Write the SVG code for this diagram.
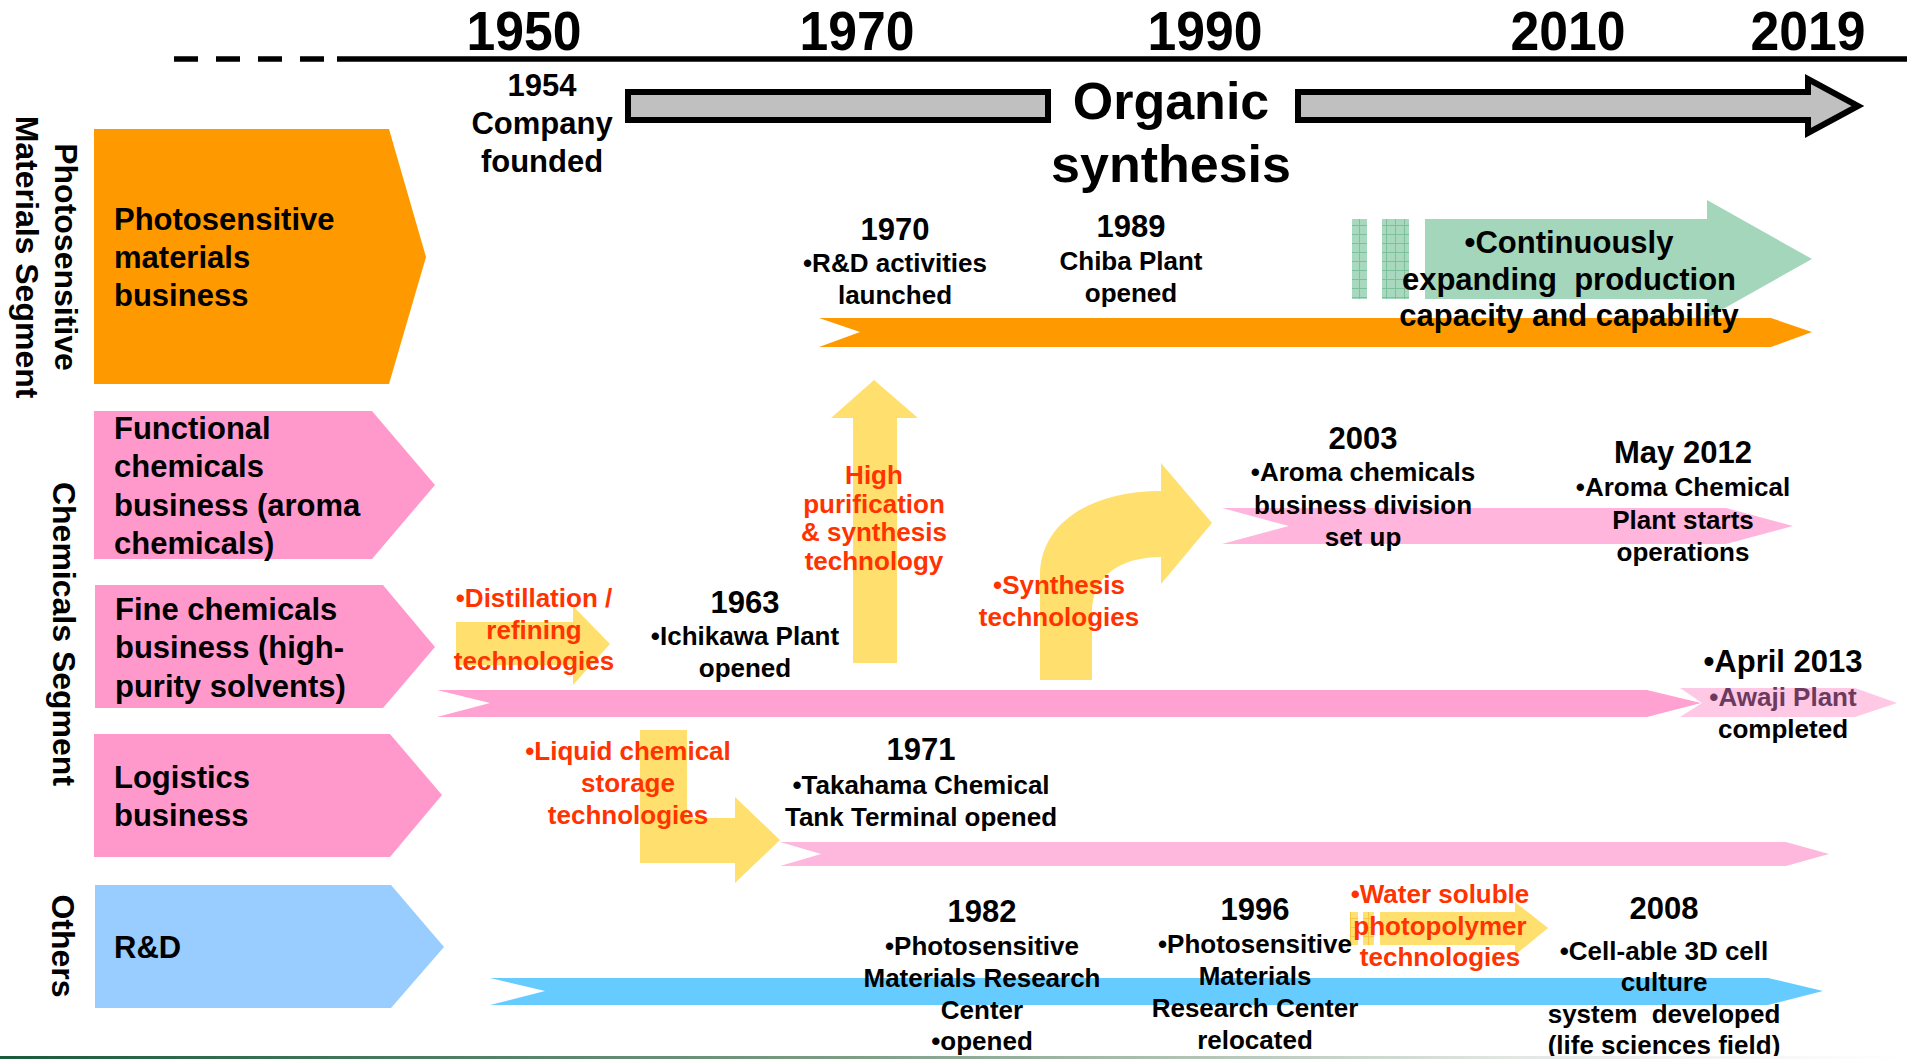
<svg xmlns="http://www.w3.org/2000/svg" width="1907" height="1059" viewBox="0 0 1907 1059">
<defs>
<linearGradient id="footer" x1="0" x2="1" y1="0" y2="0">
<stop offset="0" stop-color="#1A5A3A"/>
<stop offset="0.45" stop-color="#7E9E86"/>
<stop offset="0.8" stop-color="#E4E8E4"/>
<stop offset="1" stop-color="#FFFFFF"/>
</linearGradient>
<pattern id="ggrid" width="9" height="9" patternUnits="userSpaceOnUse">
<rect width="9" height="9" fill="#A8D8BE"/>
<path d="M0 0.5H9M0.5 0V9" stroke="#7CC09C" stroke-width="1"/>
</pattern>
<pattern id="ygrid" width="9" height="9" patternUnits="userSpaceOnUse">
<rect width="9" height="9" fill="#FFE070"/>
<path d="M0 0.5H9M0.5 0V9" stroke="#F5C842" stroke-width="1"/>
</pattern>
</defs>
<style>
text{font-family:"Liberation Sans",Arial,Helvetica,sans-serif;font-weight:bold;fill:#000}
.yr{font-size:31px}
.d{font-size:26px}
.r{font-size:26px;fill:#FF3300}
.c{text-anchor:middle}
.box{font-size:31px}
.seg{font-size:32px;text-anchor:middle}
.axis{font-size:56px;text-anchor:middle}
.org{font-size:52px;text-anchor:middle}
.yel{fill:#FFDF6E}
.gray{fill:#C0C0C0;stroke:#000;stroke-width:6;stroke-linejoin:miter}
</style>
<rect width="1907" height="1059" fill="#FFFFFF"/>

<!-- Axis -->
<g id="axis">
<line x1="174" y1="59" x2="337" y2="59" stroke="#000" stroke-width="5.5" stroke-dasharray="24 18"/>
<line x1="337" y1="59" x2="1907" y2="59" stroke="#000" stroke-width="5.5"/>
<text class="axis" x="524" y="50" textLength="115" lengthAdjust="spacingAndGlyphs">1950</text>
<text class="axis" x="857" y="50" textLength="115" lengthAdjust="spacingAndGlyphs">1970</text>
<text class="axis" x="1205" y="50" textLength="115" lengthAdjust="spacingAndGlyphs">1990</text>
<text class="axis" x="1568" y="50" textLength="115" lengthAdjust="spacingAndGlyphs">2010</text>
<text class="axis" x="1808" y="50" textLength="115" lengthAdjust="spacingAndGlyphs">2019</text>
</g>

<!-- Segment labels -->
<g id="segment-photosensitive">
<text class="seg" transform="translate(55,257) rotate(90)">Photosensitive</text>
<text class="seg" transform="translate(16,257) rotate(90)">Materials Segment</text>
</g>
<g id="segment-chemicals">
<text class="seg" transform="translate(53,634) rotate(90)">Chemicals Segment</text>
</g>
<g id="segment-others">
<text class="seg" transform="translate(52,946) rotate(90)">Others</text>
</g>

<!-- Business nodes -->
<g id="node-photosensitive">
<path d="M94,129 H389 L426,257 L389,384 H94 Z" fill="#FF9900"/>
<text class="box" x="114" y="230">Photosensitive</text>
<text class="box" x="114" y="268">materials</text>
<text class="box" x="114" y="306">business</text>
</g>
<g id="node-functional">
<path d="M94,411 H372 L435,485 L372,559 H94 Z" fill="#FF99CC"/>
<text class="box" x="114" y="439">Functional</text>
<text class="box" x="114" y="477">chemicals</text>
<text class="box" x="114" y="516">business (aroma</text>
<text class="box" x="114" y="554">chemicals)</text>
</g>
<g id="node-fine">
<path d="M95,585 H383 L435,647 L383,708 H95 Z" fill="#FF99CC"/>
<text class="box" x="115" y="620">Fine chemicals</text>
<text class="box" x="115" y="658">business (high-</text>
<text class="box" x="115" y="697">purity solvents)</text>
</g>
<g id="node-logistics">
<path d="M94,734 H390 L442,795 L390,857 H94 Z" fill="#FF99CC"/>
<text class="box" x="114" y="788">Logistics</text>
<text class="box" x="114" y="826">business</text>
</g>
<g id="node-rd">
<path d="M95,885 H391 L444,947 L391,1008 H95 Z" fill="#99CCFF"/>
<text class="box" x="114" y="958">R&amp;D</text>
</g>

<!-- Connectors: timeline bars and arrows -->
<g id="connectors">
<rect class="gray" x="628" y="92" width="420" height="28"/>
<path class="gray" d="M1298,92 H1808 V79 L1858,106 L1808,133 V120 H1298 Z"/>

<rect x="1352" y="219" width="15" height="80" fill="url(#ggrid)"/>
<rect x="1382" y="219" width="27" height="80" fill="url(#ggrid)"/>
<path d="M1425,219 H1707 V200 L1812,259 L1707,318 V299 H1425 Z" fill="#A3D6BA"/>
<path d="M819,318 H1771 L1812,332 L1771,347 H819 L860,332 Z" fill="#FF9900"/>

<path d="M1222,508 H1726 L1793,526 L1726,544 H1222 L1289,526 Z" fill="#FFB5DC"/>

<path d="M1680,688 H1855 L1897,703 L1855,717 H1680 L1702,703 Z" fill="#FFC8E4"/>
<path d="M437,690 H1647 L1701,703 L1647,717 H437 L490,703 Z" fill="#FFA1D1"/>

<path d="M780,842 H1786 L1829,854 L1786,866 H780 L821,854 Z" fill="#FFB8DD"/>

<path d="M490,978 H1768 L1823,991 L1768,1005 H490 L545,991 Z" fill="#66CCFF"/>

<path class="yel" d="M853,663 V418 H831 L874,380 L918,418 H897 V663 Z"/>
<path class="yel" d="M1040,680 V575 C1040,525 1088,491 1161,491 V463 L1212,523 L1161,584 V557 C1118,557 1092,578 1092,612 V680 Z"/>
<path class="yel" d="M456,622 H573 V606 L610,644 L573,685 V665 H456 Z"/>
<path class="yel" d="M640,730 H687 V818 H735 V797 L780,840 L735,883 V863 H640 Z"/>
<rect x="1350" y="912" width="8" height="33" fill="url(#ygrid)"/>
<rect x="1363" y="912" width="11" height="33" fill="url(#ygrid)"/>
<path class="yel" d="M1380,912 H1515 V902 L1548,928 L1515,955 V945 H1380 Z"/>
</g>

<!-- Labels -->
<g id="label-1954">
<text class="yr c" x="542" y="96">1954</text>
<text class="yr c" x="542" y="134">Company</text>
<text class="yr c" x="542" y="172">founded</text>
</g>
<g id="label-organic">
<text class="org" x="1171" y="119">Organic</text>
<text class="org" x="1171" y="182">synthesis</text>
</g>
<g id="label-1970">
<text class="yr c" x="895" y="240">1970</text>
<text class="d c" x="895" y="272">•R&amp;D activities</text>
<text class="d c" x="895" y="304">launched</text>
</g>
<g id="label-1989">
<text class="yr c" x="1131" y="237">1989</text>
<text class="d c" x="1131" y="270">Chiba Plant</text>
<text class="d c" x="1131" y="302">opened</text>
</g>
<g id="label-continuously">
<text class="yr c" x="1569" y="253">•Continuously</text>
<text class="yr c" x="1569" y="290" xml:space="preserve">expanding  production</text>
<text class="yr c" x="1569" y="326">capacity and capability</text>
</g>
<g id="label-high-purification">
<text class="r c" x="874" y="484">High</text>
<text class="r c" x="874" y="513">purification</text>
<text class="r c" x="874" y="541">&amp; synthesis</text>
<text class="r c" x="874" y="570">technology</text>
</g>
<g id="label-synthesis">
<text class="r c" x="1059" y="594">•Synthesis</text>
<text class="r c" x="1059" y="626">technologies</text>
</g>
<g id="label-2003">
<text class="yr c" x="1363" y="449">2003</text>
<text class="d c" x="1363" y="481">•Aroma chemicals</text>
<text class="d c" x="1363" y="514">business division</text>
<text class="d c" x="1363" y="546">set up</text>
</g>
<g id="label-2012">
<text class="yr c" x="1683" y="463">May 2012</text>
<text class="d c" x="1683" y="496">•Aroma Chemical</text>
<text class="d c" x="1683" y="529">Plant starts</text>
<text class="d c" x="1683" y="561">operations</text>
</g>
<g id="label-distillation">
<text class="r c" x="534" y="607">•Distillation /</text>
<text class="r c" x="534" y="639">refining</text>
<text class="r c" x="534" y="670">technologies</text>
</g>
<g id="label-1963">
<text class="yr c" x="745" y="613">1963</text>
<text class="d c" x="745" y="645">•Ichikawa Plant</text>
<text class="d c" x="745" y="677">opened</text>
</g>
<g id="label-2013">
<text class="yr c" x="1783" y="672">•April 2013</text>
<text class="d c" x="1783" y="706" style="fill:#6B3A5E">•Awaji Plant</text>
<text class="d c" x="1783" y="738">completed</text>
</g>
<g id="label-liquid">
<text class="r c" x="628" y="760">•Liquid chemical</text>
<text class="r c" x="628" y="792">storage</text>
<text class="r c" x="628" y="824">technologies</text>
</g>
<g id="label-1971">
<text class="yr c" x="921" y="760">1971</text>
<text class="d c" x="921" y="794">•Takahama Chemical</text>
<text class="d c" x="921" y="826">Tank Terminal opened</text>
</g>
<g id="label-1982">
<text class="yr c" x="982" y="922">1982</text>
<text class="d c" x="982" y="955">•Photosensitive</text>
<text class="d c" x="982" y="987">Materials Research</text>
<text class="d c" x="982" y="1019">Center</text>
<text class="d c" x="982" y="1050">•opened</text>
</g>
<g id="label-1996">
<text class="yr c" x="1255" y="920">1996</text>
<text class="d c" x="1255" y="953">•Photosensitive</text>
<text class="d c" x="1255" y="985">Materials</text>
<text class="d c" x="1255" y="1017">Research Center</text>
<text class="d c" x="1255" y="1049">relocated</text>
</g>
<g id="label-water">
<text class="r c" x="1440" y="903">•Water soluble</text>
<text class="r c" x="1440" y="935">photopolymer</text>
<text class="r c" x="1440" y="966">technologies</text>
</g>
<g id="label-2008">
<text class="yr c" x="1664" y="919">2008</text>
<text class="d c" x="1664" y="960">•Cell-able 3D cell</text>
<text class="d c" x="1664" y="991">culture</text>
<text class="d c" x="1664" y="1023" xml:space="preserve">system  developed</text>
<text class="d c" x="1664" y="1054">(life sciences field)</text>
</g>

<rect x="0" y="1056" width="1907" height="3" fill="url(#footer)"/>
</svg>
